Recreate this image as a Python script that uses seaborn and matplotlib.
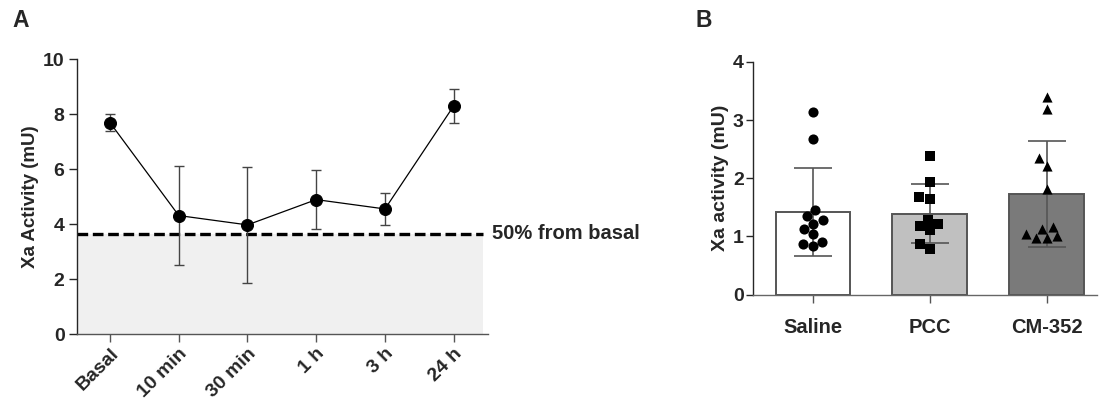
import numpy as np
import pandas as pd
import matplotlib
matplotlib.use('Agg')
import matplotlib.pyplot as plt
import seaborn as sns

sns.set_style('ticks')
plt.rcParams['font.family'] = ['Liberation Sans', 'DejaVu Sans']
plt.rcParams['font.weight'] = 'bold'

# panel A: Xa activity over time (mean +/- SD)
timepoints = ['Basal', '10 min', '30 min', '1 h', '3 h', '24 h']
xa_mean = [7.69, 4.31, 3.97, 4.89, 4.55, 8.30]
xa_sd = [0.31, 1.79, 2.12, 1.06, 0.58, 0.62]
half_basal = 3.64

# panel B: individual animals per treatment
groups = ['Saline', 'PCC', 'CM-352']
saline_vals = [3.14, 2.67, 1.46, 1.36, 1.29, 1.22, 1.13, 1.04, 0.91, 0.87, 0.83]
pcc_vals = [2.39, 1.94, 1.64, 1.67, 1.22, 1.29, 1.11, 1.18, 0.87, 0.79]
cm352_vals = [3.40, 3.19, 2.21, 2.34, 1.82, 1.13, 0.97, 1.05, 1.17, 0.98, 1.01]
group_mean = [1.42, 1.39, 1.73]
group_sd = [0.755, 0.505, 0.91]

bar_colors = ['white', '#c0c0c0', '#7a7a7a']
markers = ['o', 's', '^']

fig = plt.figure(figsize=(10.99, 4.03), dpi=100)
axA = fig.add_axes([0.0701, 0.1712, 0.374, 0.682])
axB = fig.add_axes([0.6855, 0.2687, 0.3125, 0.578])

# ---- panel A
axA.axhspan(0, half_basal, xmin=0, xmax=0.987, color='#f0f0f0', lw=0, zorder=0)
axA.axhline(half_basal, xmin=0, xmax=0.987, color='black', lw=2.4,
            dashes=(3.2, 1.4), zorder=1)
sns.lineplot(x=timepoints, y=xa_mean, sort=False, color='black', lw=0.9,
             marker='o', markersize=8.6, markeredgecolor='black', ax=axA, zorder=4)
axA.errorbar(timepoints, xa_mean, yerr=xa_sd, fmt='none', ecolor='#444444',
             elinewidth=1.0, capsize=3.6, capthick=1.0, zorder=3)
axA.set_xlim(-0.48, 5.5)
axA.set_ylim(0, 10)
axA.set_yticks([0, 2, 4, 6, 8, 10])
axA.set_ylabel('Xa Activity (mU)', fontsize=13.5, fontweight='bold', labelpad=3)
axA.set_xlabel('')
axA.tick_params(axis='y', length=6, width=1, pad=3, labelsize=14)
axA.tick_params(axis='x', length=6, width=1, color='#555555', pad=2, labelsize=14)
plt.setp(axA.get_xticklabels(), rotation=45, ha='right', rotation_mode='anchor',
         fontweight='bold')
plt.setp(axA.get_yticklabels(), fontweight='bold')
axA.text(5.56, half_basal, '50% from basal', fontsize=14.5, fontweight='bold',
         va='center', ha='left', clip_on=False)
sns.despine(ax=axA)
axA.spines['left'].set_linewidth(1.0)
axA.spines['bottom'].set_linewidth(1.0)
axA.spines['bottom'].set_color('#555555')

# ---- panel B
bar_df = pd.DataFrame({'group': groups, 'mean': group_mean, 'sd': group_sd})
sns.barplot(data=bar_df, x='group', y='mean', order=groups, palette=bar_colors,
            hue='group', legend=False, width=0.64, edgecolor='#555555',
            linewidth=1.4, ax=axB, zorder=1)
axB.errorbar(groups, group_mean, yerr=group_sd, fmt='none', ecolor='#555555',
             elinewidth=1.2, capsize=13.5, capthick=1.2, zorder=3)
for grp, vals, mk in zip(groups, [saline_vals, pcc_vals, cm352_vals], markers):
    pts = pd.DataFrame({'group': grp, 'value': vals})
    sns.swarmplot(data=pts, x='group', y='value', order=groups, marker=mk,
                  color='black', size=7.3, ax=axB, zorder=5)
axB.set_xlim(-0.51, 2.43)
axB.set_ylim(0, 4)
axB.set_yticks([0, 1, 2, 3, 4])
axB.set_xlabel('')
axB.set_ylabel('Xa activity (mU)', fontsize=14, fontweight='bold', labelpad=3)
axB.tick_params(axis='y', length=5, width=1, pad=2, labelsize=14)
axB.tick_params(axis='x', length=6, width=1, color='#555555', pad=11, labelsize=14.5)
plt.setp(axB.get_xticklabels(), fontweight='bold')
plt.setp(axB.get_yticklabels(), fontweight='bold')
sns.despine(ax=axB)
axB.spines['left'].set_linewidth(1.0)
axB.spines['bottom'].set_linewidth(1.0)
axB.spines['bottom'].set_color('#666666')

fig.text(0.019, 0.95, 'A', fontsize=16.5, fontweight='bold', ha='center', va='center')
fig.text(0.64, 0.949, 'B', fontsize=16.5, fontweight='bold', ha='center', va='center')

fig.savefig('out.png', dpi=100)
